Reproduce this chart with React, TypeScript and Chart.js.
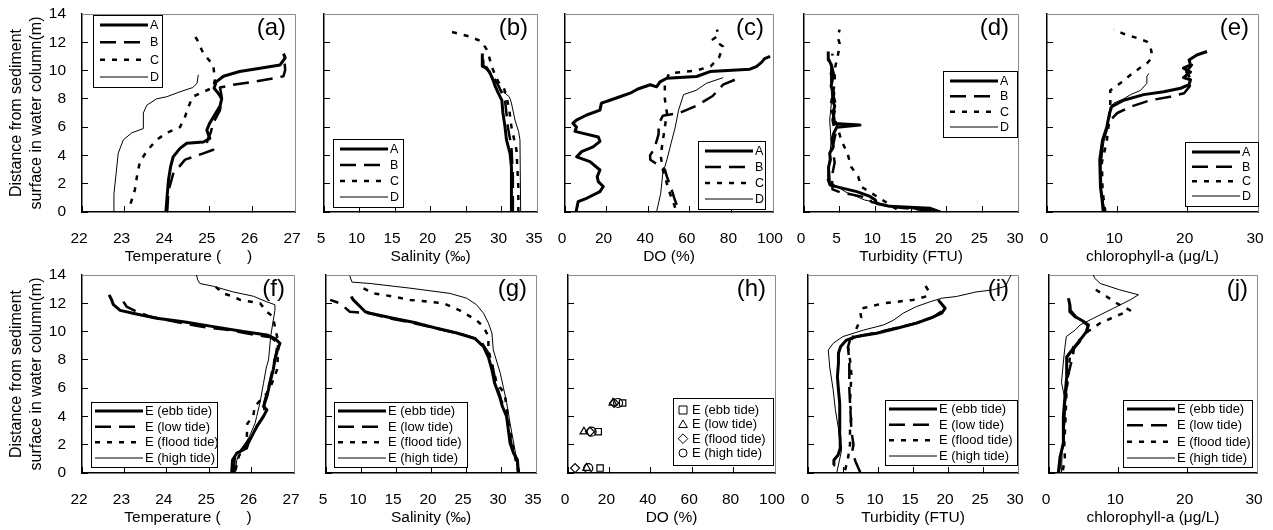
import React, { useEffect, useRef } from 'react';
import { Chart, registerables } from 'chart.js';

Chart.register(...registerables);

// ---------- data: [value, depth(m)] ----------
// (a) temperature, stations A-D
const aA = [[23.97,0],[24.0,1.2],[24.03,2.26],[24.08,3.2],[24.14,3.9],[24.3,4.5],[24.46,4.86],[24.85,4.95],[25.0,5.2],[24.93,5.8],[25.0,6.3],[25.12,6.9],[25.24,7.5],[25.28,8.0],[25.2,8.4],[25.1,8.75],[25.15,9.2],[25.32,9.6],[25.7,9.93],[26.18,10.17],[26.65,10.4],[26.77,10.9],[26.73,11.2]];
const aB = [[24.0,0],[24.03,1.5],[24.14,2.7],[24.42,3.7],[24.85,4.15],[25.08,4.4],[24.93,5.0],[25.02,5.6],[25.08,6.3],[25.24,7.2],[25.28,8.15],[25.24,8.8],[25.55,9.0],[26.0,9.2],[26.5,9.45],[26.73,9.6],[26.77,10.05],[26.75,10.75]];
const aC = [[23.14,0.6],[23.24,1.55],[23.3,2.7],[23.36,3.55],[23.52,4.3],[23.75,5.1],[23.99,5.6],[24.3,6.0],[24.42,6.75],[24.5,7.45],[24.6,8.15],[24.85,8.5],[25.08,8.8],[25.12,9.35],[25.08,10.4],[24.85,11.2],[24.7,12.2],[24.57,12.75]];
const aD = [[22.74,0],[22.75,1.3],[22.8,2.7],[22.85,4.15],[22.97,5.1],[23.17,5.6],[23.44,5.9],[23.44,7.0],[23.52,7.55],[23.75,8.0],[23.99,8.15],[24.3,8.5],[24.6,8.8],[24.7,9.1],[24.73,9.7]];
// (b) salinity
const bA = [[31.43,0],[31.4,3.2],[31.2,4.15],[30.7,5.1],[30.5,6.0],[30.2,7.0],[30.05,7.9],[29.55,8.4],[29.1,8.9],[28.8,9.35],[28.4,9.8],[27.9,10.2],[27.35,10.3],[27.3,10.75],[27.3,11.2]];
const bB = [[31.6,0],[31.6,2.5],[31.4,4.6],[30.9,6.0],[30.5,7.9],[29.6,8.9],[28.6,9.8],[27.45,10.3],[27.4,11.2]];
const bC = [[32.37,0],[32.37,1.8],[32.1,4.4],[31.4,6.0],[31.1,7.2],[30.7,8.15],[30.26,8.9],[29.55,9.2],[29.1,9.7],[28.6,10.3],[28.3,10.9],[27.9,11.5],[27.2,12.05],[25.56,12.4],[22.3,12.83]];
const bD = [[32.7,0],[32.6,5.1],[32.4,5.7],[31.9,6.5],[31.4,7.7],[31.1,8.15],[30.0,8.6],[29.55,8.9],[28.9,9.4],[28.4,9.9]];
// (c) DO
const cA = [[5.3,0],[6.3,0.73],[10.4,0.97],[16.8,1.44],[18.4,1.8],[16,2.15],[15.5,2.5],[16.8,2.97],[12,3.56],[5.6,3.9],[8,4.27],[13.5,4.6],[16.8,5.0],[16,5.3],[8.8,5.56],[4.8,5.7],[5.5,6.0],[3.8,6.27],[5.5,6.5],[10.4,6.86],[16.8,7.2],[17.5,7.7],[21.6,7.9],[26.4,8.15],[31.3,8.4],[35,8.7],[41,9.0],[44,8.85],[45.7,9.2],[48.9,9.46],[63.3,9.58],[69.7,9.93],[88.9,10.1],[92,10.28],[94.6,10.6],[96,10.85],[98.6,11.0]];
const cB = [[53.7,0.5],[52.5,1.0],[51.3,1.56],[49,2.5],[48,3.0],[41,3.7],[40.9,4.0],[43,4.5],[44,5.0],[45,5.5],[45,6.2],[47,6.8],[55,7.0],[63,7.5],[71,8.2],[76,9.0],[84,9.5]];
const cC = [[53,0.3],[50,1.5],[47,3.0],[46,4.0],[47,5.0],[48,6.0],[49,7.0],[48,8.0],[48,9.0],[50,9.8],[63,10.0],[70,10.3],[74,10.9],[76,11.7],[71,12.2],[74,12.5],[73,12.9]];
const cD = [[44,0],[46,1.3],[47,2.7],[49,3.7],[51,4.86],[53,6.0],[54.6,7.2],[57,8.3],[63,8.6],[68,9.1],[76,9.5]];
// (d) turbidity
const dA = [[19.1,0],[17.7,0.26],[12,0.4],[10.2,0.6],[10,0.85],[9.25,1.1],[7.4,1.44],[5.5,1.67],[3.65,1.9],[3.4,2.26],[3.5,2.8],[3.4,3.2],[3.7,3.7],[3.6,4.15],[4.1,4.6],[3.9,5.1],[4.2,5.6],[4.6,6.0],[7.85,6.15],[4.3,6.25],[4.1,7.0],[4.3,7.5],[4.0,7.9],[4.2,8.4],[3.8,8.9],[4.0,9.4],[3.8,9.8],[3.9,10.3],[3.5,10.75],[3.4,11.35]];
const dB = [[18,0.1],[12.5,0.35],[9.5,0.7],[9,1.0],[6.5,1.25],[5.0,1.4],[4.0,1.6],[3.9,2.5],[4.3,3.5],[4.0,4.5],[4.4,5.5],[4.0,6.5],[4.5,7.5],[4.0,8.5],[4.3,9.5],[3.8,10.5],[4.0,11.2]];
const dC = [[13,0.2],[11,0.85],[8,1.8],[7.6,2.5],[6.6,3.2],[6.1,4.15],[5.2,5.1],[4.7,6.0],[3.7,7.45],[4.2,8.8],[4.4,10.3],[4.8,11.2],[5.0,11.9],[4.7,12.4],[5.0,12.9]];
const dD = [[17.6,0.05],[12,0.45],[8.5,0.85],[5.9,1.4],[3.7,2.1],[3.5,3.5],[3.8,5.0],[3.6,6.5],[3.9,8.0],[3.7,9.5],[3.8,10.5]];
// (e) chlorophyll-a
const eA = [[8.0,0],[7.8,1.0],[7.6,1.8],[7.5,3.7],[7.9,5.1],[8.5,6.0],[8.9,7.0],[9.2,7.45],[10.9,7.9],[13.75,8.3],[16.6,8.5],[19,8.75],[20.2,9.0],[20.4,9.35],[19.4,9.5],[20.4,9.9],[19.4,10.17],[20.4,10.4],[20.2,10.75],[21.3,11.1],[22.75,11.35]];
const eB = [[8.1,0],[7.7,1.5],[7.6,3.5],[8.0,5.0],[8.6,6.0],[9,6.5],[10,7.0],[11.9,7.45],[14.7,7.9],[17.5,8.15],[19.5,8.4],[20.3,8.9],[20.5,9.4],[19.8,9.9],[20.6,10.4],[20.3,10.8]];
const eC = [[8.3,0],[7.9,1.5],[7.8,3.5],[8.5,5.0],[8.8,6.27],[9.0,7.45],[9.0,8.6],[10.4,9.1],[11.9,9.7],[13.5,10.3],[14.2,10.5],[14.9,10.9],[14.9,11.2],[14.7,11.7],[14.2,12.05],[12.8,12.3],[10.9,12.6],[9.5,12.9]];
const eD = [[8.2,0],[7.8,1.5],[7.7,3.5],[8.1,5.0],[8.6,6.3],[9.0,7.45],[9.5,7.7],[10.9,8.0],[11.9,8.3],[13.3,8.6],[14.2,9.1],[14.2,9.6],[14.5,9.8]];
// (f) temperature, station E by tide
const fEbb = [[25.53,0],[25.55,0.92],[25.65,1.4],[25.88,1.75],[25.92,2.1],[26.0,2.57],[26.12,3.28],[26.28,4.0],[26.36,4.46],[26.28,4.7],[26.36,5.4],[26.43,6.34],[26.51,7.3],[26.55,8.0],[26.61,8.7],[26.67,9.17],[26.55,9.5],[26.36,9.76],[25.8,10.0],[25.1,10.35],[24.39,10.7],[23.76,10.94],[23.2,11.3],[22.9,11.5],[22.74,11.9],[22.7,12.24],[22.64,12.6]];
const fLow = [[25.58,0],[25.6,1.0],[25.8,1.8],[26.0,2.6],[26.15,3.4],[26.3,4.1],[26.3,5.0],[26.42,6.3],[26.5,7.4],[26.58,8.5],[26.62,9.2],[26.45,9.6],[26.04,9.78],[25.5,10.1],[24.8,10.35],[24.2,10.7],[23.6,11.06],[23.3,11.4],[23.05,11.77],[22.95,12.24],[22.9,12.48]];
const fFlood = [[25.62,0.2],[25.7,1.2],[25.88,2.0],[25.9,3.5],[26.04,4.0],[26.07,4.7],[26.36,5.64],[26.48,6.34],[26.6,7.3],[26.63,8.7],[26.6,9.65],[26.55,10.35],[26.5,11.06],[26.36,11.4],[26.2,12.0],[25.73,12.24],[25.57,12.48],[25.33,12.7],[25.1,13.3]];
const fHigh = [[25.62,0],[25.65,0.9],[25.8,1.8],[25.95,2.6],[26.08,3.5],[26.12,4.0],[26.2,5.0],[26.28,6.34],[26.35,7.5],[26.4,8.0],[26.45,9.65],[26.5,10.6],[26.55,11.5],[26.55,11.9],[26.36,12.1],[26.04,12.5],[25.57,12.8],[25.1,13.2],[24.78,13.4],[24.73,13.65],[24.7,14.0]];
// (g) salinity
const gEbb = [[32.48,0],[32.35,0.92],[31.8,1.4],[31.3,2.1],[31.05,3.04],[30.8,4.0],[30.2,4.7],[29.8,5.4],[29.1,6.34],[28.7,7.3],[28.2,8.2],[27.5,8.94],[26.3,9.5],[23.7,9.9],[20.8,10.24],[18,10.6],[14.6,10.94],[11.3,11.3],[10.6,11.4],[9.86,11.77],[8.9,12.24],[8.6,12.48]];
const gLow = [[32.5,0],[32.2,1.2],[31.5,2.0],[31.1,3.2],[30.7,4.3],[30.0,5.2],[29.3,6.3],[28.8,7.5],[28.3,8.4],[27.0,9.4],[24.5,9.8],[21,10.2],[17.5,10.6],[13.5,11.0],[11.3,11.3],[8.4,11.4],[7,12.0],[5.6,12.24]];
const gFlood = [[32.5,0],[31.8,1.6],[31.1,3.5],[30.8,4.7],[30.5,5.64],[29.4,6.34],[28.8,7.5],[28.2,8.7],[28.2,9.65],[27.5,10.35],[26.5,10.8],[24.1,11.5],[21.8,12.0],[17,12.24],[14.6,12.48],[11.8,12.7],[10.3,13.07]];
const gHigh = [[32.7,0],[32.0,1.6],[31.3,3.5],[30.8,5.0],[29.9,7.05],[28.9,8.7],[28.7,9.9],[28.2,10.6],[27.5,11.3],[26.5,11.9],[25.1,12.36],[22.7,12.7],[17,13.07],[11.3,13.4],[8.7,13.5],[8.4,13.94]];
// (h) DO, discrete samples
const hEbb = [[26.4,4.95],[14.6,2.92],[15.5,0.35]];
const hLow = [[21.7,4.95],[7.7,2.92],[9.0,0.35]];
const hFlood = [[22.3,4.95],[10.6,2.92],[3.4,0.35]];
const hHigh = [[24.2,4.95],[11.4,2.92],[9.8,0.35]];
// (i) turbidity
const iEbb = [[3.6,0.57],[3.7,0.92],[4.3,1.27],[4.67,1.86],[4.6,2.33],[4.5,3.0],[4.57,4.0],[4.5,4.93],[4.35,5.87],[4.2,6.8],[4.35,7.76],[4.35,8.47],[4.67,8.94],[5.5,9.4],[6.95,9.65],[9.8,9.88],[12.7,10.24],[15.5,10.6],[17.4,10.94],[19.1,11.3],[19.6,11.65],[19.0,12.0],[18.6,12.24]];
const iLow = [[7.5,0],[6.8,0.8],[6.3,1.5],[6.5,2.0],[6.2,3.0],[6.1,4.0],[6.0,5.0],[5.9,6.0],[5.9,7.0],[5.9,8.0],[5.7,8.9],[6.0,9.4],[7.5,9.7],[10.5,10.0],[13,10.3],[15.5,10.6],[17.8,11.0],[19.0,11.4],[19.3,11.7]];
const iFlood = [[5.3,0.2],[5.7,1.0],[6.0,2.0],[6.0,3.0],[6.2,4.0],[6.0,5.0],[6.1,6.0],[6.2,7.0],[6.0,8.0],[5.7,9.0],[6.5,9.7],[7.0,10.3],[7.6,11.0],[7.4,11.6],[10.8,12.0],[15,12.24],[17,12.5],[17.2,12.9],[16.7,13.3]];
const iHigh = [[4.1,0],[4.8,1.6],[4.4,3.0],[3.9,4.5],[3.6,5.87],[3.1,7.5],[2.9,8.7],[3.6,9.17],[5.0,9.65],[7.9,10.1],[10.8,10.47],[12.2,10.8],[13.6,11.3],[15.5,11.77],[17.4,12.1],[19.1,12.36],[21.2,12.48],[24,12.8],[26.4,12.95],[28.2,13.2],[29,14.0]];
// (j) chlorophyll-a
const jEbb = [[1.35,0],[1.6,1.15],[2.07,2.1],[2.07,4.0],[2.3,5.4],[2.55,6.8],[2.55,8.2],[3.5,8.8],[4.47,9.4],[5.4,10.0],[5.7,10.47],[4.7,10.8],[3.75,11.06],[3.0,11.4],[3.0,11.9],[2.8,12.36]];
const jLow = [[1.4,0],[1.7,1.2],[2.1,2.2],[2.2,4.0],[2.4,5.5],[2.7,6.8],[3.4,8.2],[3.6,8.8],[4.6,9.4],[5.4,10.0],[5.6,10.4],[4.8,10.8],[3.8,11.1],[3.1,11.5],[3.0,12.0],[2.9,12.4]];
const jFlood = [[2.0,0.2],[2.3,1.0],[2.2,2.0],[2.4,4.0],[2.5,5.5],[2.8,7.0],[3.0,8.2],[3.6,9.0],[4.8,9.6],[5.6,10.0],[7.4,10.6],[9.5,11.06],[11.7,11.5],[9.8,12.0],[8.3,12.48],[6.4,13.07]];
const jHigh = [[1.8,0],[1.9,1.5],[2.2,3.0],[2.4,5.0],[1.8,6.4],[2.1,8.0],[2.3,8.9],[2.5,9.65],[3.75,10.1],[4.5,10.47],[6.4,10.94],[9.3,11.65],[11.7,12.24],[12.9,12.6],[10.2,12.95],[7.4,13.4],[6.6,13.77],[6.4,14.0]];

const TOP_NAMES = ['A', 'B', 'C', 'D'];
const BOTTOM_NAMES = ['E (ebb tide)', 'E (low tide)', 'E (flood tide)', 'E (high tide)'];
const Y_TITLE = ['Distance from sediment', 'surface in water column(m)'];

// ---------- styles / layout ----------
const FONT = "'Liberation Sans', Arial, Helvetica, sans-serif";
const LINE_STYLES = [
  { width: 3, dash: [] as number[] },
  { width: 2.5, dash: [16, 8] },
  { width: 2.5, dash: [5, 7] },
  { width: 1, dash: [] as number[] },
];
const MARKERS = ['rect', 'triangle', 'rectRot', 'circle'];

interface Leg { x: number; y: number; w: number; h: number; sx: number; sl: number; tx: number; y0: number; fs: number; }
interface Panel {
  tag: string; xMin: number; xMax: number; step: number; title: string;
  rect: [number, number, number, number]; yLabels: boolean;
  names: string[]; series: number[][][]; legend: Leg; markers?: boolean;
}

const topLeg = (x: number, y: number, w: number, h: number): Leg => ({ x, y, w, h, sx: 7, sl: 48, tx: 57, y0: 10, fs: 12.5 });
const botLeg = (x: number, y: number, w: number, h: number): Leg => ({ x, y, w, h, sx: 4, sl: 48, tx: 54, y0: 9, fs: 13 });

const PANELS: Panel[] = [
  { tag: '(a)', xMin: 22, xMax: 27, step: 1, title: 'Temperature (      )', rect: [82, 14, 295, 212], yLabels: true, names: TOP_NAMES, series: [aA, aB, aC, aD], legend: topLeg(11, 1, 69, 72) },
  { tag: '(b)', xMin: 5, xMax: 35, step: 5, title: 'Salinity (‰)', rect: [324, 14, 537, 212], yLabels: false, names: TOP_NAMES, series: [bA, bB, bC, bD], legend: topLeg(9, 125, 70, 68) },
  { tag: '(c)', xMin: 0, xMax: 100, step: 20, title: 'DO (%)', rect: [565, 14, 773, 212], yLabels: false, names: TOP_NAMES, series: [cA, cB, cC, cD], legend: topLeg(133, 127, 67, 68) },
  { tag: '(d)', xMin: 0, xMax: 30, step: 5, title: 'Turbidity (FTU)', rect: [804, 14, 1018, 212], yLabels: false, names: TOP_NAMES, series: [dA, dB, dC, dD], legend: topLeg(139, 57, 74, 66) },
  { tag: '(e)', xMin: 0, xMax: 30, step: 10, title: 'chlorophyll-a (μg/L)', rect: [1047, 14, 1258, 212], yLabels: false, names: TOP_NAMES, series: [eA, eB, eC, eD], legend: topLeg(138, 128, 73, 64) },
  { tag: '(f)', xMin: 22, xMax: 27, step: 1, title: 'Temperature (      )', rect: [82, 275, 294, 473], yLabels: true, names: BOTTOM_NAMES, series: [fEbb, fLow, fFlood, fHigh], legend: botLeg(9, 127, 126, 65) },
  { tag: '(g)', xMin: 5, xMax: 35, step: 5, title: 'Salinity (‰)', rect: [326, 275, 536, 473], yLabels: false, names: BOTTOM_NAMES, series: [gEbb, gLow, gFlood, gHigh], legend: botLeg(8, 127, 133, 65) },
  { tag: '(h)', xMin: 0, xMax: 100, step: 20, title: 'DO (%)', rect: [568, 275, 775, 473], yLabels: false, names: BOTTOM_NAMES, series: [hEbb, hLow, hFlood, hHigh], legend: { x: 105, y: 123, w: 100, h: 67, sx: 10, sl: 0, tx: 19, y0: 12, fs: 13 }, markers: true },
  { tag: '(i)', xMin: 0, xMax: 30, step: 5, title: 'Turbidity (FTU)', rect: [808, 275, 1018, 473], yLabels: false, names: BOTTOM_NAMES, series: [iEbb, iLow, iFlood, iHigh], legend: botLeg(77, 125, 132, 65) },
  { tag: '(j)', xMin: 0, xMax: 30, step: 10, title: 'chlorophyll-a (μg/L)', rect: [1049, 275, 1257, 473], yLabels: false, names: BOTTOM_NAMES, series: [jEbb, jLow, jFlood, jHigh], legend: botLeg(74, 125, 129, 67) },
];

const PAD_TOP = 14;
const PAD_RIGHT = 14;
const X_AXIS_H = 60;

function drawMarker(ctx: CanvasRenderingContext2D, style: string, x: number, y: number, r: number) {
  ctx.beginPath();
  if (style === 'rect') {
    ctx.rect(x - r, y - r, 2 * r, 2 * r);
  } else if (style === 'triangle') {
    ctx.moveTo(x, y - r * 1.1);
    ctx.lineTo(x + r * 1.1, y + r * 0.8);
    ctx.lineTo(x - r * 1.1, y + r * 0.8);
    ctx.closePath();
  } else if (style === 'rectRot') {
    ctx.moveTo(x, y - r * 1.2);
    ctx.lineTo(x + r * 1.2, y);
    ctx.lineTo(x, y + r * 1.2);
    ctx.lineTo(x - r * 1.2, y);
    ctx.closePath();
  } else {
    ctx.arc(x, y, r, 0, Math.PI * 2);
  }
  ctx.stroke();
}

const decor = {
  id: 'decor',
  beforeDatasetsDraw(chart: any) {
    const { ctx, chartArea } = chart;
    const { left, top, right, bottom } = chartArea;
    ctx.save();
    ctx.strokeStyle = '#8a8a8a';
    ctx.lineWidth = 1;
    ctx.setLineDash([]);
    ctx.beginPath();
    ctx.moveTo(left, Math.round(top) + 0.5);
    ctx.lineTo(Math.round(right) + 0.5, Math.round(top) + 0.5);
    ctx.lineTo(Math.round(right) + 0.5, bottom);
    ctx.stroke();
    ctx.restore();
  },
  afterDatasetsDraw(chart: any, _args: any, opts: any) {
    const { ctx, chartArea } = chart;
    const { left, top, right } = chartArea;
    const leg: Leg = opts.legend;
    ctx.save();
    const bx = left + leg.x, by = top + leg.y;
    ctx.fillStyle = '#fff';
    ctx.fillRect(bx, by, leg.w, leg.h);
    ctx.strokeStyle = '#000';
    ctx.lineWidth = 1;
    ctx.setLineDash([]);
    ctx.strokeRect(Math.round(bx) + 0.5, Math.round(by) + 0.5, leg.w, leg.h);
    const step = (leg.h - 2 * leg.y0) / 3;
    chart.data.datasets.forEach((ds: any, i: number) => {
      const ry = by + leg.y0 + i * step;
      ctx.strokeStyle = '#000';
      if (opts.markers) {
        ctx.lineWidth = 1;
        ctx.setLineDash([]);
        drawMarker(ctx, MARKERS[i], bx + leg.sx, ry, 4);
      } else {
        ctx.lineWidth = ds.borderWidth;
        ctx.setLineDash(ds.borderDash || []);
        ctx.lineCap = 'butt';
        ctx.beginPath();
        ctx.moveTo(bx + leg.sx, ry);
        ctx.lineTo(bx + leg.sx + leg.sl, ry);
        ctx.stroke();
      }
      ctx.setLineDash([]);
      ctx.fillStyle = '#000';
      ctx.font = `${leg.fs}px ${FONT}`;
      ctx.textAlign = 'left';
      ctx.textBaseline = 'middle';
      ctx.fillText(ds.label, bx + leg.tx, ry + 0.5);
    });
    ctx.font = `24px ${FONT}`;
    ctx.textAlign = 'right';
    ctx.textBaseline = 'middle';
    ctx.fillStyle = '#000';
    ctx.fillText(opts.tag, right - 9, top + 14);
    ctx.restore();
  },
};

function geometry(p: Panel) {
  const [l, t, r, b] = p.rect;
  const yW = p.yLabels ? l : 22;
  return {
    yW,
    left: l - yW,
    top: t - PAD_TOP,
    width: r - l + yW + PAD_RIGHT,
    height: b - t + PAD_TOP + X_AXIS_H,
  };
}

function noPad(s: any) {
  s.paddingLeft = 0;
  s.paddingRight = 0;
  s.paddingTop = 0;
  s.paddingBottom = 0;
}

function buildConfig(p: Panel): any {
  const g = geometry(p);
  const datasets = p.series.map((pts, i) => {
    const data = pts.map(([x, y]) => ({ x, y }));
    if (p.markers) {
      return {
        label: p.names[i], data, showLine: false,
        pointStyle: MARKERS[i], pointRadius: 4.5,
        borderColor: '#000', backgroundColor: 'rgba(0,0,0,0)', borderWidth: 1.2,
      };
    }
    return {
      label: p.names[i], data, showLine: true, fill: false, tension: 0,
      borderColor: '#000', borderWidth: LINE_STYLES[i].width, borderDash: LINE_STYLES[i].dash,
      borderCapStyle: 'butt', borderJoinStyle: 'round', pointRadius: 0, pointHoverRadius: 0,
    };
  });
  const gridOpts = { drawOnChartArea: false, drawTicks: true, tickLength: -6, color: '#000', tickColor: '#000', tickWidth: 1 };
  return {
    type: 'scatter',
    data: { datasets },
    options: {
      responsive: false,
      animation: false,
      devicePixelRatio: 1,
      events: [],
      layout: { padding: { top: PAD_TOP, right: PAD_RIGHT, left: 0, bottom: 0 }, autoPadding: false },
      plugins: {
        legend: { display: false },
        tooltip: { enabled: false },
        decor: { legend: p.legend, tag: p.tag, markers: !!p.markers },
      },
      scales: {
        x: {
          type: 'linear', position: 'bottom', min: p.xMin, max: p.xMax,
          ticks: { stepSize: p.step, padding: 23, labelOffset: -3, color: '#000', font: { size: 15.5 }, maxRotation: 0, autoSkip: false },
          grid: gridOpts,
          border: { display: true, color: '#000', width: 1.5 },
          title: { display: true, text: p.title, color: '#000', font: { size: 15.5 }, padding: { top: 0, bottom: 6 } },
          afterFit: (s: any) => { s.height = X_AXIS_H; noPad(s); },
        },
        y: {
          type: 'linear', position: 'left', min: 0, max: 14,
          ticks: { stepSize: 2, display: p.yLabels, padding: 22, color: '#000', font: { size: 15.5 } },
          grid: gridOpts,
          border: { display: true, color: '#000', width: 1.5 },
          title: { display: p.yLabels, text: Y_TITLE, color: '#000', font: { size: 16, lineHeight: 1.25 }, padding: { top: 7, bottom: 0 } },
          afterFit: (s: any) => { s.width = g.yW; noPad(s); },
        },
      },
    },
    plugins: [decor],
  };
}

export default function App() {
  const refs = useRef<(HTMLCanvasElement | null)[]>([]);

  useEffect(() => {
    Chart.defaults.font.family = FONT;
    Chart.defaults.color = '#000';
    const charts = PANELS.map((p, i) => {
      const c = refs.current[i];
      return c ? new Chart(c, buildConfig(p)) : null;
    });
    return () => charts.forEach((c) => c && c.destroy());
  }, []);

  return (
    <div style={{ position: 'fixed', left: 0, top: 0, width: 1273, height: 530, background: '#fff', overflow: 'hidden' }}>
      {PANELS.map((p, i) => {
        const g = geometry(p);
        return (
          <canvas
            key={p.tag}
            ref={(el) => { refs.current[i] = el; }}
            width={g.width}
            height={g.height}
            style={{ position: 'absolute', left: g.left, top: g.top, width: g.width, height: g.height }}
          />
        );
      })}
    </div>
  );
}
